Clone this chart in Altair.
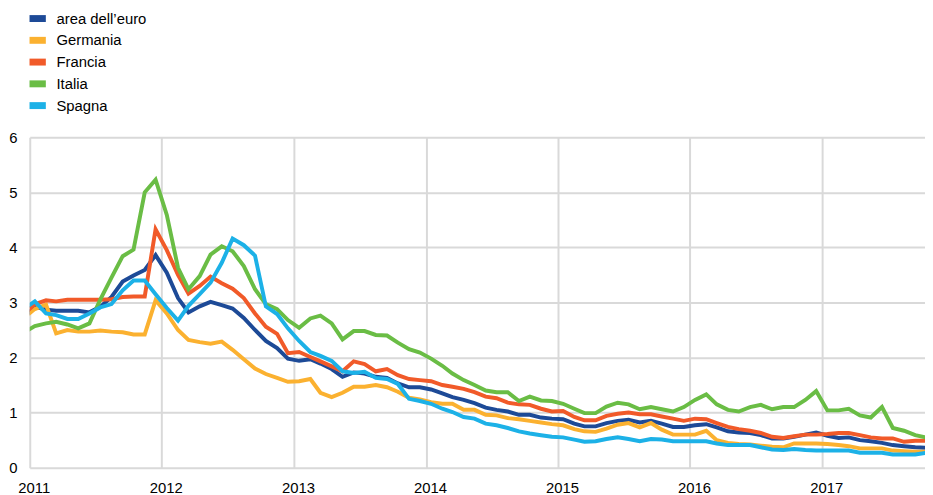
import altair as alt
import pandas as pd

# Monthly observations (mid-month), Dec 2010 - Oct 2017
months = pd.date_range("2010-12-01", "2017-10-01", freq="MS")
dates = [(m + pd.Timedelta(days=14)).strftime("%Y-%m-%dT00:00:00") for m in months]

series = ["area dell’euro", "Germania", "Francia", "Italia", "Spagna"]
colors = ["#1D4A97", "#FBB130", "#F15A29", "#6ABD45", "#1CB1E7"]

euro = [2.72, 2.92, 2.87, 2.85, 2.85, 2.85, 2.82, 2.92, 3.10, 3.38, 3.49, 3.59, 3.86,
        3.54, 3.08, 2.82, 2.93, 3.01, 2.95, 2.89, 2.72, 2.50, 2.30, 2.17, 1.98,
        1.94, 1.97, 1.89, 1.79, 1.65, 1.73, 1.71, 1.65, 1.63, 1.53, 1.46, 1.46,
        1.42, 1.35, 1.28, 1.23, 1.17, 1.09, 1.05, 1.02, 0.96, 0.96, 0.91, 0.89,
        0.88, 0.80, 0.75, 0.75, 0.81, 0.85, 0.87, 0.82, 0.85, 0.80, 0.74, 0.74,
        0.77, 0.79, 0.73, 0.66, 0.64, 0.63, 0.59, 0.53, 0.53, 0.56, 0.60, 0.64,
        0.58, 0.54, 0.55, 0.50, 0.48, 0.45, 0.41, 0.39, 0.37, 0.36]

germania = [2.72, 2.88, 2.96, 2.44, 2.50, 2.47, 2.47, 2.49, 2.47, 2.46, 2.42, 2.42, 3.04,
            2.80, 2.50, 2.32, 2.28, 2.25, 2.29, 2.14, 1.97, 1.80, 1.70, 1.63, 1.56,
            1.57, 1.61, 1.36, 1.28, 1.36, 1.47, 1.47, 1.50, 1.46, 1.38, 1.27, 1.24,
            1.19, 1.16, 1.16, 1.05, 1.05, 0.96, 0.95, 0.90, 0.88, 0.85, 0.82, 0.79,
            0.77, 0.70, 0.66, 0.65, 0.71, 0.78, 0.81, 0.73, 0.81, 0.69, 0.60, 0.60,
            0.60, 0.67, 0.50, 0.45, 0.43, 0.42, 0.40, 0.38, 0.37, 0.44, 0.44, 0.44,
            0.43, 0.41, 0.39, 0.35, 0.35, 0.35, 0.31, 0.30, 0.29, 0.29]

francia = [2.78, 2.97, 3.04, 3.02, 3.05, 3.05, 3.05, 3.05, 3.06, 3.10, 3.11, 3.11, 4.33,
           3.95, 3.50, 3.16, 3.30, 3.47, 3.35, 3.25, 3.08, 2.80, 2.56, 2.43, 2.08,
           2.10, 2.01, 1.93, 1.84, 1.75, 1.93, 1.88, 1.75, 1.79, 1.68, 1.61, 1.59,
           1.57, 1.50, 1.47, 1.43, 1.37, 1.29, 1.26, 1.18, 1.15, 1.14, 1.07, 1.02,
           1.03, 0.92, 0.86, 0.86, 0.94, 0.98, 1.00, 0.97, 0.97, 0.93, 0.89, 0.85,
           0.89, 0.88, 0.81, 0.74, 0.70, 0.67, 0.63, 0.56, 0.54, 0.57, 0.60, 0.60,
           0.61, 0.63, 0.63, 0.59, 0.55, 0.53, 0.53, 0.47, 0.49, 0.49]

italia = [2.45, 2.57, 2.62, 2.65, 2.60, 2.53, 2.62, 3.05, 3.45, 3.84, 3.96, 5.00, 5.23,
          4.59, 3.63, 3.24, 3.48, 3.87, 4.02, 3.93, 3.66, 3.24, 2.97, 2.88, 2.68,
          2.54, 2.71, 2.76, 2.62, 2.33, 2.48, 2.48, 2.41, 2.40, 2.27, 2.15, 2.09,
          1.98, 1.85, 1.71, 1.59, 1.50, 1.40, 1.37, 1.37, 1.21, 1.29, 1.22, 1.21,
          1.16, 1.07, 0.99, 0.99, 1.11, 1.18, 1.15, 1.06, 1.10, 1.06, 1.02, 1.10,
          1.23, 1.33, 1.15, 1.05, 1.02, 1.10, 1.14, 1.06, 1.10, 1.10, 1.23, 1.39,
          1.04, 1.04, 1.07, 0.95, 0.91, 1.10, 0.72, 0.67, 0.59, 0.55]

spagna = [2.88, 3.02, 2.80, 2.77, 2.70, 2.70, 2.80, 2.91, 2.97, 3.22, 3.40, 3.40, 3.15,
          2.90, 2.67, 2.94, 3.15, 3.36, 3.72, 4.16, 4.04, 3.85, 2.93, 2.79, 2.53,
          2.30, 2.10, 2.03, 1.94, 1.75, 1.72, 1.74, 1.63, 1.61, 1.52, 1.25, 1.21,
          1.16, 1.07, 1.01, 0.92, 0.89, 0.80, 0.77, 0.72, 0.66, 0.62, 0.59, 0.56,
          0.55, 0.51, 0.47, 0.48, 0.52, 0.55, 0.52, 0.48, 0.52, 0.51, 0.48, 0.48,
          0.48, 0.48, 0.44, 0.41, 0.41, 0.41, 0.37, 0.33, 0.32, 0.34, 0.32, 0.31,
          0.31, 0.31, 0.31, 0.27, 0.27, 0.27, 0.24, 0.24, 0.24, 0.27]

year_ticks = list(range(2011, 2018))
y_ticks = [0, 1, 2, 3, 4, 5, 6]

rows = []
for name, vals in zip(series, [euro, germania, francia, italia, spagna]):
    for d, v in zip(dates, vals):
        rows.append({"data": d, "serie": name, "valore": v})
df = pd.DataFrame(rows)

FONT = "Liberation Sans"

x_enc = alt.X(
    "data:T",
    title=None,
    scale=alt.Scale(domain=[alt.DateTime(year=2011, month=1, date=1),
                            alt.DateTime(year=2017, month=10, date=12)]),
    axis=alt.Axis(
        values=[alt.DateTime(year=y, month=1, date=1) for y in year_ticks],
        format="%Y", labelFlush=False, labelOffset=4, labelPadding=13,
        ticks=False, domain=False, grid=True, gridColor="#d9d9d9", gridWidth=2,
        labelFont=FONT, labelFontSize=15, labelColor="#000000",
    ),
)
y_enc = alt.Y(
    "valore:Q",
    title=None,
    scale=alt.Scale(domain=[0, 6], nice=False),
    axis=alt.Axis(
        values=y_ticks, format="d", labelPadding=13,
        ticks=False, domain=False, grid=True, gridColor="#d9d9d9", gridWidth=2,
        labelFont=FONT, labelFontSize=15, labelColor="#000000",
    ),
)
color_enc = alt.Color(
    "serie:N",
    scale=alt.Scale(domain=series, range=colors),
    legend=alt.Legend(
        title=None, orient="none", direction="vertical",
        legendX=0, legendY=-128,
        symbolType="M-2,0L2,0", symbolSize=68, symbolStrokeWidth=7,
        labelFont=FONT, labelFontSize=15, labelColor="#000000",
        labelOffset=11, rowPadding=-6, padding=0,
    ),
)

layers = []
for name in series:
    layers.append(
        alt.Chart(df)
        .transform_filter(alt.datum.serie == name)
        .mark_line(strokeWidth=4, clip=True)
        .encode(x=x_enc, y=y_enc, color=color_enc)
    )

chart = (
    alt.layer(*layers)
    .properties(width=905, height=334,
                padding={"left": 0, "top": 0, "right": 0, "bottom": 0})
    .configure_view(stroke=None)
)

chart.save("out.html", embed_options={"renderer": "svg", "actions": False})
